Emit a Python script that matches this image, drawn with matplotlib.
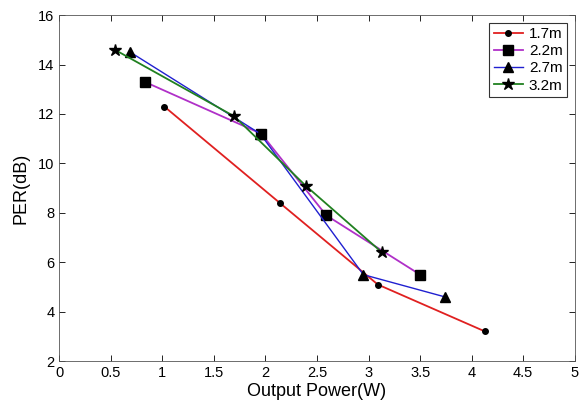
import numpy as np
import matplotlib as mpl
import matplotlib.pyplot as plt

plt.rcParams['font.family'] = ['Liberation Sans', 'DejaVu Sans']

# values
x_17 = [1.02, 2.14, 3.09, 4.13]
y_17 = [12.3, 8.4, 5.1, 3.2]

x_22 = [0.83, 1.96, 2.59, 3.5]
y_22 = [13.3, 11.2, 7.9, 5.5]

x_27 = [0.69, 1.95, 2.95, 3.74]
y_27 = [14.5, 11.2, 5.5, 4.6]

x_32 = [0.54, 1.7, 2.39, 3.13]
y_32 = [14.6, 11.9, 9.1, 6.4]

labels = ["1.7m", "2.2m", "2.7m", "3.2m"]

fig = plt.figure(figsize=(5.8, 4.09), dpi=100)
ax = fig.add_axes([0.102, 0.117, 0.889, 0.846])

ax.plot(x_17, y_17, '-o', color='#e02020', mfc='black', mec='black', ms=4, lw=1.3, label=labels[0])
ax.plot(x_22, y_22, '-s', color='#b030c8', mfc='black', mec='black', ms=7, lw=1.3, label=labels[1])
ax.plot(x_27, y_27, '-^', color='#2020d0', mfc='black', mec='black', ms=7, lw=1.0, label=labels[2])
ax.plot(x_32, y_32, '-*', color='#208020', mfc='black', mec='black', ms=9, lw=1.3, label=labels[3])

ax.set_xlim(0, 5)
ax.set_ylim(2, 16)
ax.set_xticks(np.arange(0, 5.01, 0.5))
ax.set_xticklabels(["0", "0.5", "1", "1.5", "2", "2.5", "3", "3.5", "4", "4.5", "5"])
ax.set_yticks(range(2, 17, 2))
ax.tick_params(direction='in', top=True, right=True, labelsize=10.5, length=4, width=0.6)
for s in ax.spines.values():
	s.set_linewidth(0.6)
	s.set_color('#555555')

ax.set_xlabel("Output Power(W)", fontsize=13, labelpad=2)
ax.set_ylabel("PER(dB)", fontsize=13, labelpad=6)

leg = ax.legend(loc='upper right', fontsize=11, fancybox=False, edgecolor='black',
		borderaxespad=0.5, handlelength=1.9, handletextpad=0.4, labelspacing=0.2,
		borderpad=0.3)
leg.get_frame().set_linewidth(0.8)

plt.savefig("out.png", dpi=100)
